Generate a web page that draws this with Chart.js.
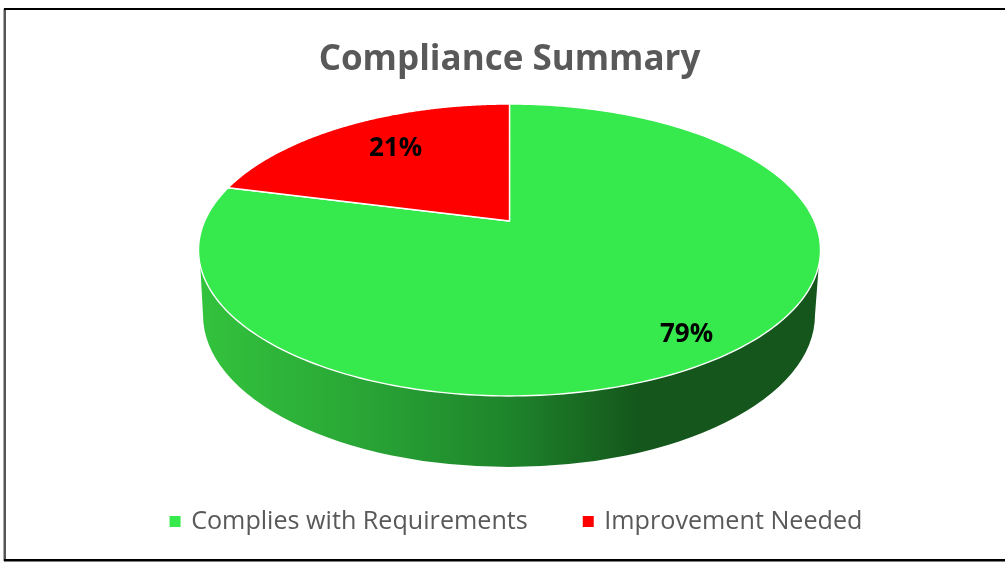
<!DOCTYPE html>
<html><head><meta charset="utf-8">
<style>html,body{margin:0;padding:0;background:#fff}canvas{display:block}</style>
<script src="https://cdn.jsdelivr.net/npm/chart.js@4"></script>
</head><body><canvas id="c" width="1005" height="569"></canvas>
<script>
const categories = ['Complies with Requirements', 'Improvement Needed'];
const seriesValues = [79, 21];
const sliceColors = ['#36E94C', '#FF0000'];
const FONT = '"Open Sans", sans-serif';

// Perspective tilt of the pie: maps a point of the library's unit circle to the page.
const k = 0.1986, hubX = 509.5, hubY = 221, scaleX = 304.8, scaleY = 140.2;
function project(alpha, r) {
  const u = r * Math.cos(alpha), v = r * Math.sin(alpha), w = 1 - k * v;
  return [hubX + scaleX * u / w, hubY + scaleY * v / w];
}
const labelPlacement = [{r: 0.825, dy: 9}, {r: 0.675, dy: -5}];

const pie3d = {
  id: 'pie3d',
  beforeDraw(chart) {
    const c = chart.ctx;
    c.save();
    c.fillStyle = '#fff'; c.fillRect(0, 0, 1005, 569);
    c.fillStyle = '#555'; c.fillRect(3.5, 9, 2.5, 552);
    c.fillStyle = '#000'; c.fillRect(4, 8, 1001, 2); c.fillRect(4, 559, 1001, 2.5);
    c.restore();
  },
  afterLayout(chart) {
    chart.legend.left += 7.5; chart.legend.right += 7.5;
  },
  beforeDatasetsDraw(chart) {
    const c = chart.ctx, arcs = chart.getDatasetMeta(0).data;
    // side wall
    const grad = c.createLinearGradient(200, 0, 820, 0);
    grad.addColorStop(0, '#33C33D');
    grad.addColorStop(0.24, '#2AA836');
    grad.addColorStop(0.5, '#1E842B');
    grad.addColorStop(0.71, '#14561B');
    grad.addColorStop(1, '#14561B');
    c.save();
    c.beginPath();
    c.moveTo(200.4, 268);
    c.lineTo(203, 315);
    c.ellipse(509, 315, 306, 152, 0, Math.PI, 0, true);
    c.lineTo(818.6, 268);
    c.closePath();
    c.fillStyle = grad; c.fill();
    c.restore();
    // top faces
    arcs.forEach((a, i) => {
      const n = 240;
      c.save();
      c.beginPath();
      c.moveTo(hubX, hubY);
      for (let s = 0; s <= n; s++) {
        const p = project(a.startAngle + (a.endAngle - a.startAngle) * s / n, 1);
        c.lineTo(p[0], p[1]);
      }
      c.closePath();
      c.fillStyle = a.options.backgroundColor; c.fill();
      c.strokeStyle = '#fff'; c.lineWidth = 1.4; c.lineJoin = 'round'; c.stroke();
      c.restore();
    });
    // value labels
    const total = seriesValues.reduce((x, y) => x + y, 0);
    arcs.forEach((a, i) => {
      const p = project((a.startAngle + a.endAngle) / 2, labelPlacement[i].r);
      c.save();
      c.font = 'bold 26px ' + FONT;
      c.fillStyle = '#000'; c.textAlign = 'center'; c.textBaseline = 'middle';
      c.fillText(Math.round(seriesValues[i] / total * 100) + '%', p[0], p[1] + labelPlacement[i].dy);
      c.restore();
    });
    return false;
  }
};

new Chart(document.getElementById('c'), {
  type: 'pie',
  data: { labels: categories, datasets: [{ data: seriesValues, backgroundColor: sliceColors, borderWidth: 0 }] },
  plugins: [pie3d],
  options: {
    responsive: false, animation: false, events: [],
    layout: { padding: { left: 14, top: 39, bottom: 25 } },
    plugins: {
      tooltip: { enabled: false },
      title: { display: true, text: 'Compliance Summary', color: '#595959',
               font: { family: FONT, size: 35, weight: 'bold' }, padding: { top: 0, bottom: 10 } },
      legend: { position: 'bottom',
        labels: { usePointStyle: true, pointStyle: 'rect', boxWidth: 7, boxHeight: 11, padding: 57, color: '#595959',
                  font: { family: FONT, size: 25.15 } } }
    }
  }
});
</script></body></html>
